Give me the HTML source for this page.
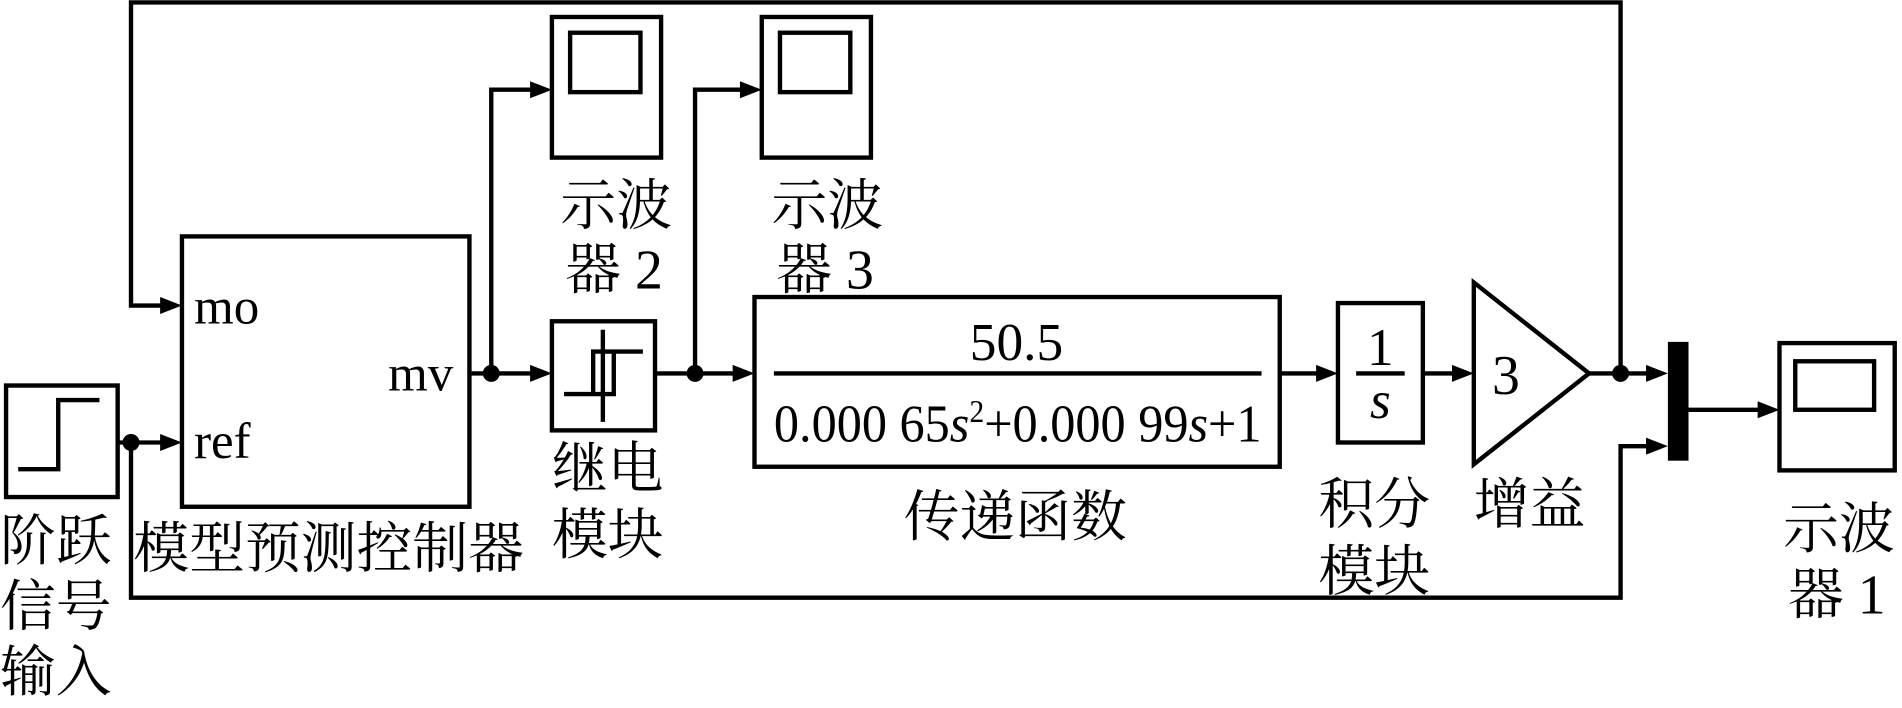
<!DOCTYPE html>
<html><head><meta charset="utf-8"><style>
html,body{margin:0;padding:0;background:#fff;}
svg{display:block;}
text{font-family:"Liberation Serif","DejaVu Serif","Noto Serif CJK SC",serif;fill:#000;}
.c text{font-family:"Liberation Serif","Noto Serif CJK SC","Noto Sans CJK SC",serif;}
.n{font-family:"Liberation Serif","DejaVu Serif",serif;}
</style></head><body>
<svg width="1902" height="708" viewBox="0 0 1568 584" preserveAspectRatio="none" xmlns="http://www.w3.org/2000/svg">
<g fill="none" stroke="#000" stroke-width="3.6">
<rect x="5" y="318" width="92" height="92"/>
<polyline points="15,387 48,387 48,330 82,330"/>
<rect x="150" y="195" width="237" height="223"/>
<rect x="455" y="14" width="90" height="116"/>
<rect x="470" y="27" width="58" height="49"/>
<rect x="628" y="14" width="90" height="116"/>
<rect x="643" y="27" width="58" height="49"/>
<rect x="455" y="265" width="85" height="90"/>
<line x1="497" y1="272" x2="497" y2="348"/>
<polyline points="530,290 489,290 489,325"/>
<polyline points="465,325 506,325 506,290"/>
<rect x="622" y="245" width="433" height="140"/>
<line x1="638" y1="308" x2="1040" y2="308"/>
<rect x="1103" y="250" width="70" height="115"/>
<line x1="1118" y1="308" x2="1158" y2="308"/>
<polygon points="1215,233 1310,308 1215,383"/>
<rect x="1467" y="283" width="95" height="105"/>
<rect x="1480" y="298" width="65" height="40"/>
<polyline points="97,365 140,365"/>
<polyline points="108,365 108,493 1336,493 1336,368 1365,368"/>
<polyline points="1336,308 1336,2 108,2 108,252 140,252"/>
<polyline points="387,308 445,308"/>
<polyline points="405,308 405,74 445,74"/>
<polyline points="540,308 612,308"/>
<polyline points="573,308 573,74 618,74"/>
<polyline points="1055,308 1093,308"/>
<polyline points="1173,308 1205,308"/>
<polyline points="1310,308 1365,308"/>
<polyline points="1392,338 1457,338"/>
</g>
<g fill="#000">
<rect x="1375" y="282" width="17" height="98"/>
<circle cx="108" cy="365" r="7"/>
<circle cx="405" cy="308" r="7"/>
<circle cx="573" cy="308" r="7"/>
<circle cx="1336" cy="308" r="7"/>
<polygon points="150,252 132,245 132,259"/>
<polygon points="150,365 132,358 132,372"/>
<polygon points="455,74 437,67 437,81"/>
<polygon points="455,308 437,301 437,315"/>
<polygon points="628,74 610,67 610,81"/>
<polygon points="622,308 604,301 604,315"/>
<polygon points="1103,308 1085,301 1085,315"/>
<polygon points="1215,308 1197,301 1197,315"/>
<polygon points="1375,308 1357,301 1357,315"/>
<polygon points="1375,368 1357,361 1357,375"/>
<polygon points="1467,338 1449,331 1449,345"/>
</g>
<g font-size="42">
<text x="160" y="267">mo</text>
<text x="160" y="378">ref</text>
<text x="320" y="322">mv</text>
<text class="n" x="838" y="297" text-anchor="middle" font-size="44">50.5</text>
<text class="n" x="638" y="364" font-size="44" textLength="402" lengthAdjust="spacingAndGlyphs">0.000 65<tspan font-style="italic">s</tspan><tspan dy="-16" font-size="26">2</tspan><tspan dy="16">+0.000 99</tspan><tspan font-style="italic">s</tspan>+1</text>
<text class="n" x="1138" y="301" text-anchor="middle" font-size="44">1</text>
<text class="n" x="1138" y="345" text-anchor="middle" font-style="italic" font-size="44">s</text>
<text class="n" x="1230" y="325" font-size="46">3</text>
</g>
<g class="c" font-size="46">
<text x="0" y="462">阶跃</text>
<text x="0" y="516">信号</text>
<text x="0" y="570">输入</text>
<text x="110" y="468">模型预测控制器</text>
<text x="455" y="402">继电</text>
<text x="455" y="457">模块</text>
<text x="462" y="185">示波</text>
<text x="466" y="238">器 2</text>
<text x="636" y="185">示波</text>
<text x="640" y="238">器 3</text>
<text x="745" y="442">传递函数</text>
<text x="1087" y="432">积分</text>
<text x="1087" y="487">模块</text>
<text x="1215" y="432">增益</text>
<text x="1470" y="452">示波</text>
<text x="1474" y="506">器 1</text>
</g>
</svg>
</body></html>
